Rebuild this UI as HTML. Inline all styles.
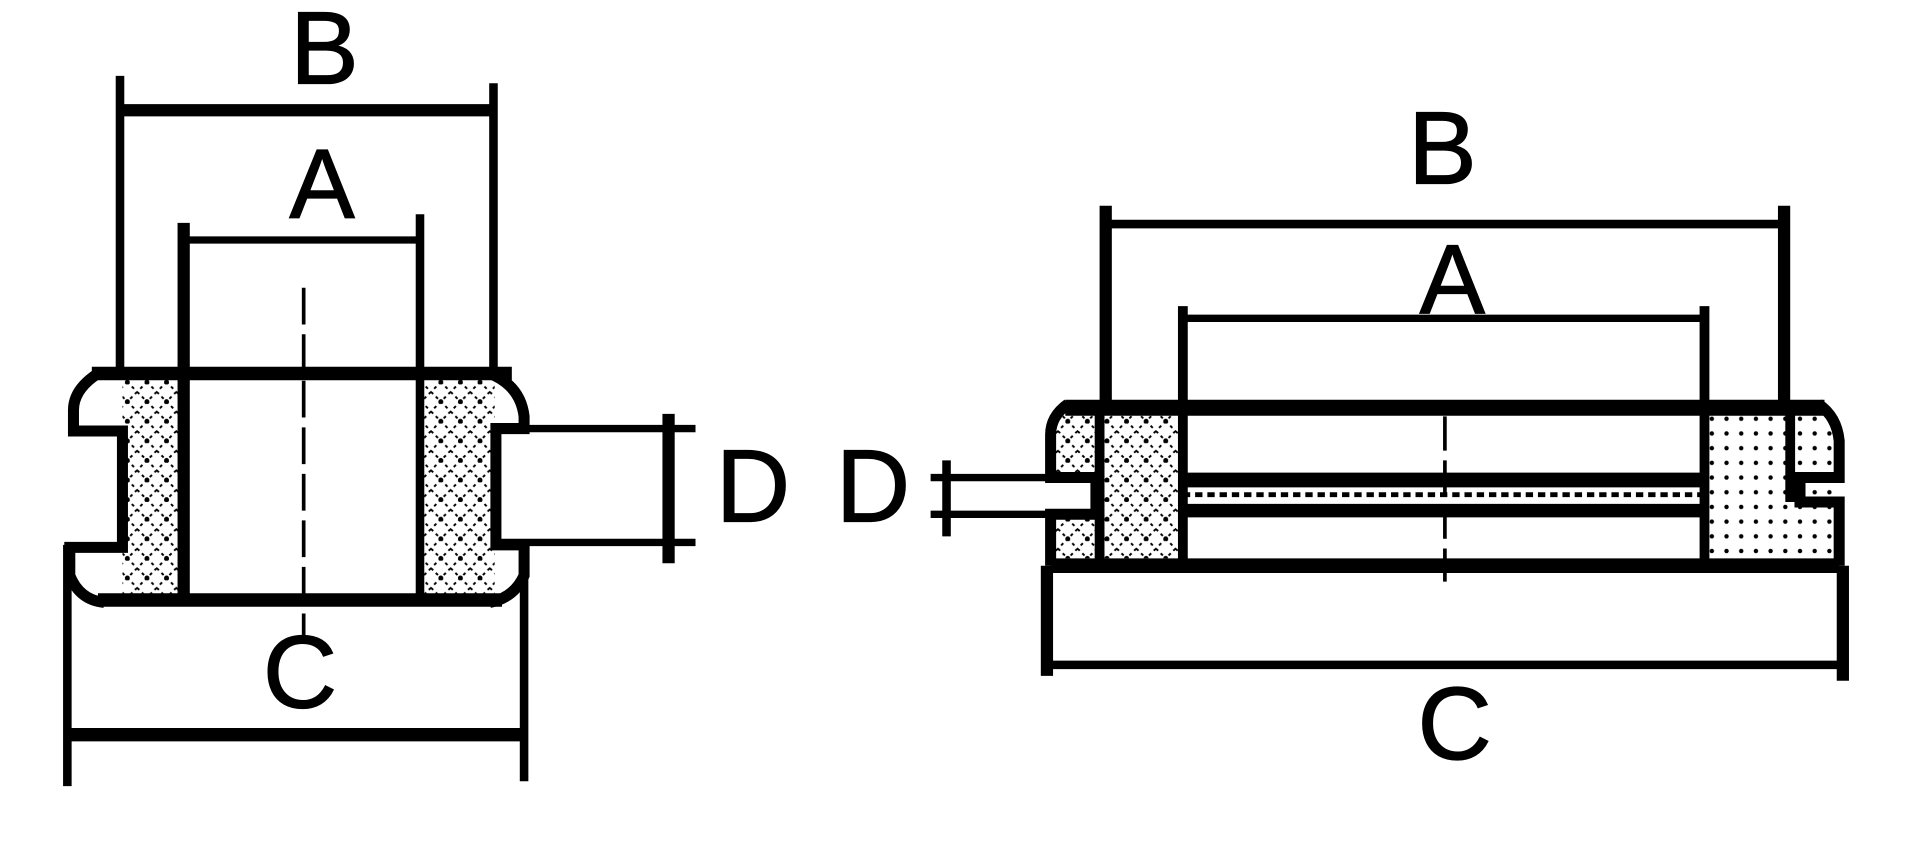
<!DOCTYPE html>
<html><head><meta charset="utf-8"><style>
html,body{margin:0;padding:0;background:#fff;width:1920px;height:851px;overflow:hidden}
svg{display:block}
text{font-family:"Liberation Sans",sans-serif;font-size:84px;fill:#000;text-anchor:middle;stroke:#000;stroke-width:1}
</style></head><body>
<svg width="1920" height="851" viewBox="0 0 1568 695" preserveAspectRatio="none">
<defs>
<pattern id="h" width="16" height="16" patternUnits="userSpaceOnUse">
<path d="M0 0L16 16M16 0L0 16" stroke="#000" stroke-width="1.6" stroke-dasharray="2.5 3"/>
<circle cx="8" cy="8" r="2" fill="#000"/>
</pattern>
<pattern id="d" width="12" height="12" patternUnits="userSpaceOnUse">
<circle cx="6" cy="6" r="1.8" fill="#000"/>
</pattern>
</defs>
<g stroke="#000" fill="none">
<text x="265" y="68">B</text>
<line x1="98" y1="62" x2="98" y2="305" stroke-width="7"/>
<line x1="403" y1="68" x2="403" y2="305" stroke-width="7"/>
<line x1="98" y1="90" x2="403" y2="90" stroke-width="10"/>
<text x="263" y="178" style="font-size:80px">A</text>
<line x1="150" y1="182" x2="150" y2="490" stroke-width="10"/>
<line x1="343" y1="175" x2="343" y2="490" stroke-width="7"/>
<line x1="150" y1="196" x2="343" y2="196" stroke-width="6"/>
<rect x="100" y="310" width="48" height="178" fill="url(#h)" stroke="none"/>
<rect x="346" y="310" width="58" height="178" fill="url(#h)" stroke="none"/>
<line x1="75" y1="305" x2="418" y2="305" stroke-width="11"/>
<line x1="80" y1="490" x2="410" y2="490" stroke-width="11"/>
<path d="M80 305 Q60 318 60 335 L60 352 L100 352 L100 447 L57 447 L57 470 Q65 490 85 492" stroke-width="9"/>
<path d="M400 305 Q425 315 428 340 L428 350 L405 350 L405 445 L428 445 L428 470 Q420 488 400 492" stroke-width="9"/>
<line x1="248" y1="235" x2="248" y2="522" stroke-width="3" stroke-dasharray="30 8"/>
<line x1="55" y1="445" x2="55" y2="642" stroke-width="7"/>
<line x1="428" y1="460" x2="428" y2="638" stroke-width="7"/>
<line x1="55" y1="600" x2="428" y2="600" stroke-width="11"/>
<text x="245" y="578">C</text>
<line x1="405" y1="350" x2="568" y2="350" stroke-width="6"/>
<line x1="405" y1="443" x2="568" y2="443" stroke-width="6"/>
<line x1="546" y1="338" x2="546" y2="460" stroke-width="10"/>
<text x="615" y="426">D</text>
<text x="713" y="426">D</text>
<line x1="773" y1="376" x2="773" y2="438" stroke-width="7"/>
<line x1="760" y1="390" x2="895" y2="390" stroke-width="6"/>
<line x1="760" y1="420" x2="895" y2="420" stroke-width="6"/>
<text x="1178" y="150">B</text>
<line x1="903" y1="168" x2="903" y2="330" stroke-width="10"/>
<line x1="1457" y1="168" x2="1457" y2="330" stroke-width="10"/>
<line x1="903" y1="183" x2="1457" y2="183" stroke-width="7"/>
<text x="1186" y="256" style="font-size:80px">A</text>
<line x1="966" y1="250" x2="966" y2="460" stroke-width="8"/>
<line x1="1392" y1="250" x2="1392" y2="460" stroke-width="8"/>
<line x1="966" y1="260" x2="1392" y2="260" stroke-width="6"/>
<rect x="862" y="338" width="104" height="118" fill="url(#h)" stroke="none"/>
<rect x="1395" y="338" width="103" height="118" fill="url(#d)" stroke="none"/>
<rect x="858" y="393" width="38" height="24" fill="#fff" stroke="none"/>
<line x1="870" y1="333" x2="1490" y2="333" stroke-width="13"/>
<line x1="966" y1="392" x2="1392" y2="392" stroke-width="12"/>
<line x1="966" y1="417" x2="1392" y2="417" stroke-width="11"/>
<line x1="966" y1="404" x2="1392" y2="404" stroke-width="4" stroke-dasharray="6 4"/>
<line x1="858" y1="462" x2="1502" y2="462" stroke-width="12"/>
<path d="M872 330 Q858 340 858 355 L858 390 L895 390 L895 420 L858 420 L858 462" stroke-width="9"/>
<path d="M1485 330 Q1500 340 1502 360 L1502 390 L1470 390 L1470 410 L1502 410 L1502 462" stroke-width="9"/>
<line x1="898" y1="330" x2="898" y2="460" stroke-width="8"/>
<line x1="1462" y1="330" x2="1462" y2="410" stroke-width="8"/>
<line x1="1180" y1="340" x2="1180" y2="475" stroke-width="3" stroke-dasharray="28 8"/>
<line x1="855" y1="462" x2="855" y2="552" stroke-width="10"/>
<line x1="1505" y1="462" x2="1505" y2="556" stroke-width="10"/>
<line x1="855" y1="543" x2="1505" y2="543" stroke-width="7"/>
<text x="1188" y="620">C</text>
</g>
</svg>
</body></html>
